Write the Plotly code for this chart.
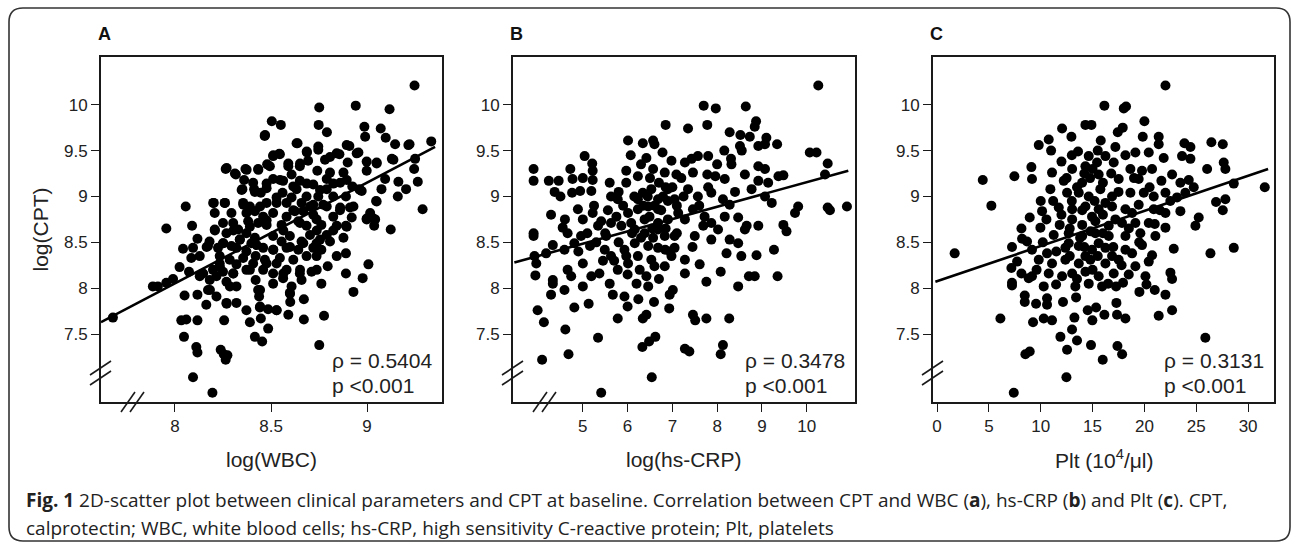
import plotly.graph_objects as go

W, H = 1292, 544

# ---------------- data ----------------
wbc_cpt = [
(9.247,10.21),(8.751,9.97),(8.941,9.99),(9.117,9.95),(8.504,9.82),(8.551,9.78),(8.748,9.78),(8.467,9.66),(8.791,9.70),(8.986,9.76),(8.99,9.65),(9.071,9.74),(9.097,9.64),(9.146,9.57),(9.221,9.57),(9.334,9.60),
(8.638,9.58),(8.687,9.48),(8.746,9.51),(8.908,9.55),(8.955,9.48),(8.856,9.46),(8.511,9.44),(8.546,9.46),(8.65,9.33),(8.693,9.39),(8.807,9.43),(8.899,9.37),(9.05,9.37),(9.129,9.41),(9.25,9.41),(9.245,9.30),
(8.264,9.30),(8.317,9.24),(8.367,9.30),(8.433,9.30),(8.48,9.35),(8.59,9.33),(8.607,9.24),(8.741,9.28),(8.807,9.26),(8.877,9.26),(8.998,9.28),(9.094,9.19),(9.163,9.16),(9.264,9.16),(9.203,9.08),
(8.36,9.18),(8.511,9.19),(8.563,9.17),(8.65,9.17),(8.72,9.13),(8.79,9.19),(8.923,9.11),(8.96,9.08),(9.075,9.08),(9.16,9.00),(9.289,8.86),
(8.351,9.08),(8.412,9.08),(8.447,9.04),(8.56,9.04),(8.633,9.08),(8.685,9.00),(8.746,9.00),(8.824,9.00),(8.89,9.00),(8.972,9.06),(9.047,8.95),
(8.202,8.93),(8.259,8.93),(8.355,8.93),(8.39,8.89),(8.477,8.93),(8.581,8.93),(8.659,8.93),(8.72,8.91),(8.79,8.89),(8.86,8.88),(8.911,8.88),
(8.056,8.89),(8.207,8.82),(8.416,8.84),(8.511,8.82),(8.624,8.84),(8.72,8.80),(8.824,8.78),(8.92,8.77),(9.016,8.82),(9.042,8.75),(8.998,8.75),(9.037,8.68),(9.123,8.64),
(7.955,8.65),(8.089,8.68),(8.207,8.64),(8.268,8.60),(8.329,8.64),(8.433,8.71),(8.477,8.69),(8.555,8.69),(8.642,8.73),(8.685,8.68),(8.762,8.69),(8.842,8.68),(8.89,8.68),
(8.372,8.60),(8.416,8.55),(8.511,8.57),(8.598,8.57),(8.703,8.58),(8.79,8.58),(8.877,8.55),
(8.117,8.54),(8.18,8.51),(8.25,8.49),(8.294,8.46),(8.042,8.43),(8.094,8.44),(8.172,8.46),(8.224,8.44),(8.32,8.44),(8.372,8.40),(8.459,8.44),(8.511,8.42),(8.581,8.44),(8.642,8.42),(8.72,8.44),(8.762,8.42),(8.89,8.38),
(8.085,8.33),(8.129,8.35),(8.233,8.35),(8.285,8.31),(8.355,8.33),(8.42,8.35),(8.468,8.31),(8.546,8.33),(8.616,8.31),(8.685,8.35),(8.737,8.35),(8.795,8.24),(9.007,8.26),
(8.024,8.23),(8.073,8.18),(8.129,8.13),(8.198,8.20),(8.25,8.18),(8.303,8.16),(8.372,8.20),(8.459,8.20),(8.511,8.16),(8.581,8.20),(8.65,8.16),(8.711,8.18),(8.89,8.16),
(7.885,8.02),(7.911,8.02),(7.955,8.06),(7.99,8.10),(8.181,8.09),(8.216,8.13),(8.268,8.07),(8.32,8.02),(8.42,8.09),(8.511,8.05),(8.563,8.11),(8.607,8.02),(8.659,8.09),(8.762,8.05),(8.977,8.11),
(8.05,7.92),(8.117,7.93),(8.172,7.98),(8.216,7.91),(8.268,7.84),(8.32,7.84),(8.433,7.98),(8.438,7.91),(8.598,7.95),(8.6,7.85),(8.671,7.88),(8.929,7.96),
(8.163,7.82),(8.372,7.76),(8.442,7.79),(8.485,7.77),(8.529,7.76),(8.59,7.71),(8.776,7.70),
(8.033,7.65),(8.059,7.66),(8.117,7.65),(8.256,7.65),(8.39,7.63),(8.447,7.67),(8.671,7.66),(7.677,7.68),(8.485,7.56),
(8.047,7.47),(8.416,7.47),(8.454,7.42),(8.751,7.38),(8.111,7.36),(8.117,7.30),(8.238,7.33),(8.254,7.28),(8.273,7.27),(8.264,7.22),(8.094,7.03),(8.195,6.86),
(8.407,9.15),(8.477,9.09),(8.607,8.99),(8.529,8.99),(8.668,8.84),(8.581,8.78),(8.459,8.78),(8.381,8.73),(8.303,8.71),(8.737,8.75),(8.807,8.51),(8.659,8.51),(8.555,8.51),(8.398,8.49),(8.337,8.53),(8.407,8.27),(8.529,8.27),(8.32,8.26),(8.233,8.27),(8.79,9.08),(8.86,9.15),(8.294,8.82),(8.372,8.82),(8.25,8.71),(8.737,8.49),(8.842,8.35),
(8.469,9.67),(8.633,9.58),(8.686,9.49),(8.746,9.545),(8.512,9.45),(8.543,9.465),(8.269,9.31),(8.312,9.25),(8.373,9.29),(8.434,9.29),(8.494,9.33),(8.59,9.36),(8.651,9.36),(8.781,9.40),(8.842,9.47),(8.894,9.56),(8.946,9.47),(8.998,9.38),(9.05,9.36),(9.137,9.40),(9.215,9.56),
(8.347,9.07),(8.416,9.05),(8.477,9.14),(8.547,9.18),(8.616,9.11),(8.686,9.14),(8.755,9.07),(8.824,9.14),(8.894,9.18),(8.963,9.07),
(8.199,8.93),(8.26,8.93),(8.356,8.91),(8.443,8.89),(8.529,8.93),(8.616,8.85),(8.703,8.89),(8.772,8.91),(8.859,8.85),(8.929,8.89),(9.05,8.945),(8.998,8.76),(9.033,8.76),
(8.208,8.63),(8.304,8.63),(8.39,8.67),(8.477,8.74),(8.564,8.63),(8.651,8.71),(8.738,8.63),(8.824,8.63),(8.894,8.67),
(8.165,8.45),(8.252,8.49),(8.338,8.53),(8.425,8.47),(8.512,8.42),(8.599,8.45),(8.668,8.49),(8.755,8.53),
(8.147,8.16),(8.234,8.23),(8.304,8.16),(8.39,8.20),(8.477,8.27),(8.564,8.16),(8.651,8.20),(8.738,8.20),
(8.182,7.98),(8.286,8.02),(8.443,7.98),(8.599,7.94),(8.269,7.83),(8.443,7.80),(8.529,7.76),
]

crp_cpt = [
(10.26,10.21),(7.70,9.99),(7.97,9.96),(8.64,9.98),(6.85,9.78),(7.35,9.74),(7.78,9.78),(8.87,9.82),(8.84,9.76),(8.28,9.70),(8.52,9.67),(8.73,9.65),(9.10,9.64),(9.07,9.57),(9.34,9.57),(8.92,9.55),(8.51,9.55),(8.55,9.50),(8.16,9.50),
(6.01,9.61),(6.34,9.58),(6.57,9.61),(6.60,9.57),(6.78,9.48),(6.07,9.45),(5.04,9.44),(6.42,9.42),(6.98,9.39),(7.28,9.37),(7.43,9.41),(7.57,9.44),(7.80,9.44),(8.31,9.41),(8.32,9.35),(8.92,9.33),(10.07,9.48),(10.22,9.48),(10.47,9.36),(10.41,9.24),
(3.90,9.30),(3.90,9.17),(4.24,9.17),(4.46,9.17),(4.37,9.05),(4.72,9.30),(4.77,9.19),(5.00,9.20),(5.21,9.36),(5.22,9.28),(5.22,9.18),(4.76,9.04),(4.94,9.06),(5.19,9.06),(5.60,9.15),(5.97,9.28),(5.97,9.15),(6.23,9.22),(6.57,9.30),(6.83,9.26),(7.09,9.24),(7.46,9.26),(7.78,9.24),(7.96,9.22),(8.17,9.19),(8.62,9.24),(8.92,9.17),(9.14,9.15),(9.37,9.22),(9.48,9.23),(9.07,9.30),(8.77,9.08),
(5.63,9.00),(5.78,8.97),(6.34,9.04),(6.53,9.08),(6.79,9.00),(7.05,8.97),(7.35,9.08),(7.57,9.00),(7.87,9.04),(8.13,8.97),(8.28,8.91),(9.22,8.93),(9.07,9.00),(9.81,8.89),(9.74,8.82),(10.47,8.88),(10.52,8.85),(10.90,8.89),
(4.29,8.80),(4.55,8.66),(4.89,8.86),(5.00,8.75),(5.22,8.82),(5.56,8.85),(5.75,8.78),(6.01,8.82),(6.23,8.86),(6.49,8.78),(6.68,8.86),(6.90,8.75),(7.13,8.82),(7.46,8.86),(7.72,8.78),(7.87,8.71),(8.17,8.78),(8.47,8.77),(8.66,8.68),(8.92,8.68),(9.48,8.69),(9.55,8.62),
(3.90,8.60),(3.90,8.57),(4.66,8.60),(4.96,8.57),(5.34,8.68),(5.52,8.57),(5.86,8.68),(6.16,8.64),(6.38,8.60),(6.68,8.64),(7.05,8.57),(7.50,8.57),(7.69,8.68),(7.87,8.53),(8.28,8.53),(8.47,8.49),(8.62,8.64),
(4.33,8.47),(4.59,8.42),(4.81,8.49),(5.16,8.46),(5.49,8.42),(5.63,8.35),(5.93,8.42),(6.16,8.49),(6.46,8.46),(6.68,8.44),(6.84,8.42),(7.05,8.44),(7.28,8.31),(8.21,8.38),(8.54,8.35),(8.88,8.36),(9.27,8.42),
(3.92,8.35),(3.96,8.27),(4.18,8.38),(3.94,8.14),(4.33,8.09),(4.33,8.05),(4.66,8.20),(4.74,8.13),(5.00,8.27),(5.19,8.13),(5.37,8.16),(5.60,8.05),(5.78,8.20),(6.01,8.27),(6.27,8.20),(6.42,8.13),(6.60,8.24),(6.83,8.24),(6.46,8.02),(7.28,8.16),(7.61,8.26),(7.76,8.07),(8.08,8.18),(8.71,8.13),(8.84,8.13),(9.35,8.13),
(4.29,7.93),(4.59,7.98),(5.00,8.02),(5.67,7.93),(5.93,7.91),(6.24,7.88),(6.59,7.85),(6.94,7.93),(7.01,7.98),(6.00,7.80),(6.93,7.78),(8.47,8.02),(4.81,7.79),(5.13,7.83),(3.99,7.76),(4.13,7.63),
(5.78,7.67),(6.34,7.67),(6.42,7.71),(7.46,7.71),(7.51,7.65),(7.76,7.67),(8.27,7.67),(4.61,7.55),(5.34,7.46),(6.62,7.47),(6.48,7.42),(6.33,7.36),(7.28,7.34),(7.38,7.31),(8.13,7.38),(8.08,7.28),(4.68,7.28),(4.09,7.22),(6.54,7.03),(5.41,6.86),
(6.23,8.97),(6.46,8.89),(6.68,8.97),(6.90,9.08),(6.38,8.75),(6.68,8.71),(6.08,8.71),(5.63,8.71),(5.41,8.73),(6.23,8.35),(6.53,8.31),(5.97,8.35),(6.98,8.35),(6.83,8.57),(6.57,8.55),(7.28,8.75),(8.02,8.64),
(6.3,9.35),(6.5,9.2),(6.7,9.15),(6.85,9.1),(6.45,9.0),(6.6,8.9),(6.75,8.85),(6.35,8.9),(6.15,9.0),(6.9,8.95),(7.0,9.1),(7.2,9.2),(7.25,9.0),(7.1,8.9),(5.9,8.9),(5.8,9.05),(6.1,8.6),(6.3,8.55),(6.55,8.65),(6.85,8.65),
(5.8,8.5),(5.5,8.6),(5.3,8.5),(5.7,8.3),(6.0,8.15),(6.7,8.1),(6.2,8.05),(5.1,8.6),(4.9,8.4),(4.6,8.75),(7.6,8.9),(7.8,9.1),(8.0,9.35),(8.4,9.05),(7.45,8.45),(7.1,8.6),(6.95,8.4),(5.45,8.3),(5.25,8.9),(4.5,9.0),
]

plt_cpt = [
(22.03,10.21),(16.14,9.99),(18.01,9.96),(18.23,9.98),(12.06,9.74),(14.31,9.78),(14.89,9.78),(20.0,9.82),(17.91,9.75),(17.43,9.70),(10.77,9.62),(9.81,9.56),(12.96,9.65),(15.79,9.61),(17.2,9.54),(19.84,9.65),(21.38,9.65),(21.38,9.57),(23.86,9.58),(24.44,9.54),(26.46,9.59),(27.56,9.57),
(13.6,9.49),(14.63,9.44),(16.24,9.44),(18.17,9.45),(19.13,9.48),(20.42,9.48),(21.86,9.42),(23.63,9.44),(24.44,9.41),(27.65,9.37),(27.81,9.30),(26.05,9.30),(9.1,9.32),(12.0,9.38),(13.03,9.30),(14.31,9.33),(15.43,9.37),(17.04,9.37),(18.65,9.30),(19.77,9.28),(20.74,9.30),
(4.41,9.18),(7.46,9.22),(9.16,9.19),(11.09,9.26),(12.22,9.17),(14.76,9.20),(15.59,9.24),(17.52,9.19),(19.45,9.19),(21.64,9.17),(22.67,9.24),(23.47,9.15),(24.28,9.18),(24.76,9.10),(28.62,9.14),(31.61,9.10),
(5.24,8.90),(10.93,9.08),(12.54,9.04),(13.67,9.04),(14.63,9.00),(15.75,9.08),(16.88,9.00),(18.65,9.04),(19.94,9.04),(20.9,9.00),(22.03,9.04),(23.15,8.99),(23.95,9.04),(26.91,8.94),(27.81,8.97),(27.56,8.85),
(10.13,8.84),(11.74,8.88),(13.03,8.86),(14.31,8.89),(15.59,8.86),(16.88,8.89),(18.17,8.86),(19.45,8.91),(20.9,8.86),(22.03,8.82),(23.47,8.84),
(8.94,8.77),(10.55,8.75),(11.83,8.69),(13.03,8.75),(14.0,8.69),(15.27,8.73),(16.56,8.68),(17.84,8.71),(19.13,8.71),(20.42,8.71),(22.03,8.66),(25.24,8.77),(24.92,8.68),
(8.14,8.65),(9.97,8.66),(11.25,8.58),(12.7,8.60),(14.0,8.57),(15.27,8.60),(16.56,8.57),(18.17,8.57),(19.61,8.60),(21.06,8.57),(8.2,8.54),(8.68,8.51),(7.23,8.45),(1.7,8.38),
(9.16,8.42),(10.61,8.38),(12.38,8.44),(13.67,8.46),(14.95,8.42),(16.24,8.44),(18.17,8.42),(19.77,8.47),(20.74,8.36),(22.83,8.43),(26.37,8.38),(28.62,8.44),
(7.72,8.29),(9.81,8.31),(11.09,8.27),(12.38,8.31),(13.67,8.27),(14.79,8.31),(16.24,8.27),(17.52,8.31),(19.13,8.24),(20.42,8.29),
(7.17,8.22),(8.14,8.16),(9.16,8.13),(10.77,8.16),(12.06,8.13),(13.03,8.16),(14.31,8.18),(15.59,8.13),(17.04,8.16),(18.49,8.15),(20.1,8.13),(22.51,8.17),(22.67,8.10),
(7.23,8.06),(7.23,8.03),(8.84,8.11),(10.29,8.02),(11.48,8.04),(13.34,8.02),(14.63,8.05),(15.92,8.02),(17.27,8.02),(17.94,8.06),(20.2,8.04),(21.0,7.98),(19.52,7.96),
(8.46,7.92),(8.46,7.85),(9.55,7.83),(10.61,7.89),(10.61,7.82),(12.15,7.85),(13.41,7.90),(14.53,7.76),(15.34,7.79),(17.3,7.84),(17.36,7.71),(16.14,7.71),(18.17,7.67),(22.03,7.93),(22.67,7.76),(21.38,7.70),
(6.11,7.67),(9.26,7.63),(10.29,7.67),(11.09,7.65),(13.25,7.68),(14.98,7.65),(11.9,7.47),(13.02,7.55),(13.5,7.43),(12.54,7.33),(14.85,7.38),(17.4,7.37),(17.85,7.28),(15.98,7.22),(8.52,7.28),(8.94,7.31),(25.88,7.46),(12.48,7.03),(7.4,6.86),
(14.95,8.78),(16.24,8.93),(13.99,9.15),(18.81,8.82),(12.7,8.49),(15.59,8.49),(16.88,8.35),(18.81,8.38),(14.31,8.35),
(12.5,9.2),(13.5,9.1),(14.2,9.25),(15.0,9.3),(16.0,9.15),(16.8,9.25),(17.5,9.05),(13.0,8.95),(14.0,8.85),(15.2,8.95),(16.0,8.8),(17.2,8.75),(12.0,8.8),(11.2,8.95),(12.8,8.65),(13.8,8.55),(14.8,8.62),(16.0,8.6),(17.0,8.45),(18.5,8.65),
(11.5,8.4),(12.8,8.35),(14.2,8.45),(15.5,8.35),(17.8,8.25),(13.5,8.1),(15.0,8.2),(16.5,8.05),(10.2,8.5),(9.6,8.2),(19.0,9.2),(20.5,9.1),(21.5,8.85),(22.5,8.95),(21.0,8.7),(19.5,8.5),(11.0,9.5),(13.0,9.45),(15.5,9.5),(10.0,8.95),
]

panel_letters = ["A", "B", "C"]
x_titles = ["log(WBC)", "log(hs-CRP)", "Plt (10<sup>4</sup>/\u03bcl)"]
rho_values = ["0.5404", "0.3478", "0.3131"]
p_text = "p <0.001"
# regression lines: intercept, slope, x-start, x-end
fit_intercept = [-0.731, 7.815, 8.076]
fit_slope = [1.098, 0.134, 0.0383]
fit_xstart = [7.615, 3.47, -0.16]
fit_xend = [9.354, 10.93, 31.93]
x_tickvals = [[8, 8.5, 9], [5, 6, 7, 8, 9, 10], [0, 5, 10, 15, 20, 25, 30]]
x_ticktext = [["8", "8.5", "9"], ["5", "6", "7", "8", "9", "10"], ["0", "5", "10", "15", "20", "25", "30"]]
y_tickvals = [7.5, 8, 8.5, 9, 9.5, 10]
y_ticktext = ["7.5", "8", "8.5", "9", "9.5", "10"]

# ---------------- layout geometry (pixels) ----------------
panel_left = [101, 513, 933]
panel_right = [442, 855, 1274]
panel_top, panel_bottom = 57, 402
x_ranges = [[7.615, 9.39], [3.44, 11.08], [-0.39, 32.5]]
y_range = [6.76, 10.52]

def px(x):
    return x / W

def py(y):
    return 1 - y / H

FONT = "Arial, Liberation Sans, sans-serif"
fig = go.Figure()
datasets = [wbc_cpt, crp_cpt, plt_cpt]

for i, data in enumerate(datasets):
    sfx = "" if i == 0 else str(i + 1)
    xs = [d[0] for d in data]
    ys = [d[1] for d in data]
    fig.add_trace(go.Scatter(x=xs, y=ys, mode="markers", xaxis="x" + sfx, yaxis="y" + sfx,
                             marker=dict(color="black", size=10, line=dict(width=0)),
                             showlegend=False, hoverinfo="skip"))
    lx = [fit_xstart[i], fit_xend[i]]
    ly = [fit_intercept[i] + fit_slope[i] * v for v in lx]
    fig.add_trace(go.Scatter(x=lx, y=ly, mode="lines", xaxis="x" + sfx, yaxis="y" + sfx,
                             line=dict(color="black", width=2.6), showlegend=False, hoverinfo="skip"))

    axis_common = dict(showgrid=False, zeroline=False, showline=True, linecolor="#1a1a1a",
                       linewidth=2, mirror=True, ticks="outside", ticklen=8, tickwidth=1.3,
                       tickcolor="#1a1a1a", tickfont=dict(family=FONT, size=17, color="#222"))
    fig.layout["xaxis" + sfx] = dict(axis_common, domain=[px(panel_left[i]), px(panel_right[i])],
                                     range=x_ranges[i], anchor="y" + sfx,
                                     tickvals=x_tickvals[i], ticktext=x_ticktext[i])
    fig.layout["yaxis" + sfx] = dict(axis_common, domain=[py(panel_bottom), py(panel_top)],
                                     range=y_range, anchor="x" + sfx,
                                     tickvals=y_tickvals, ticktext=y_ticktext)

annotations = []
shapes = []
for i in range(3):
    L, R = panel_left[i], panel_right[i]
    annotations.append(dict(text="<b>%s</b>" % panel_letters[i], x=px(L - 5), y=py(34), xref="paper", yref="paper",
                            xanchor="left", yanchor="middle", showarrow=False,
                            font=dict(family=FONT, size=18, color="#111")))
    annotations.append(dict(text=x_titles[i], x=px((L + R) / 2), y=py(459), xref="paper", yref="paper",
                            xanchor="center", yanchor="middle", showarrow=False,
                            font=dict(family=FONT, size=21, color="#222")))
    annotations.append(dict(text="\u03c1 = " + rho_values[i], x=px(R - 112), y=py(360), xref="paper", yref="paper",
                            xanchor="left", yanchor="middle", showarrow=False,
                            font=dict(family=FONT, size=21, color="#222")))
    annotations.append(dict(text=p_text, x=px(R - 112), y=py(385), xref="paper", yref="paper",
                            xanchor="left", yanchor="middle", showarrow=False,
                            font=dict(family=FONT, size=21, color="#222")))
    # y-axis break marks
    for yc in (368, 378):
        shapes.append(dict(type="line", xref="paper", yref="paper",
                           x0=px(L - 11), y0=py(yc + 7), x1=px(L + 10), y1=py(yc - 7),
                           line=dict(color="#1a1a1a", width=1.6)))
    # x-axis break marks (not in panel C)
    if i < 2:
        for xc in (L + 27, L + 36):
            shapes.append(dict(type="line", xref="paper", yref="paper",
                               x0=px(xc - 7), y0=py(412), x1=px(xc + 7), y1=py(392),
                               line=dict(color="#1a1a1a", width=1.6)))

annotations.append(dict(text="log(CPT)", x=px(40), y=py(229.5), xref="paper", yref="paper",
                        xanchor="center", yanchor="middle", textangle=-90, showarrow=False,
                        font=dict(family=FONT, size=21, color="#222")))

CAP_FONT = "Open Sans, Noto Sans, sans-serif"
cap1 = ("<b>Fig. 1</b> 2D-scatter plot between clinical parameters and CPT at baseline. Correlation between CPT and WBC "
        "(<b>a</b>), hs-CRP (<b>b</b>) and Plt (<b>c</b>). CPT,")
cap2 = "calprotectin; WBC, white blood cells; hs-CRP, high sensitivity C-reactive protein; Plt, platelets"
annotations.append(dict(text=cap1, x=px(24), y=py(500), xref="paper", yref="paper", xanchor="left",
                        yanchor="middle", showarrow=False, font=dict(family=CAP_FONT, size=19, color="#222")))
annotations.append(dict(text=cap2, x=px(24), y=py(528), xref="paper", yref="paper", xanchor="left",
                        yanchor="middle", showarrow=False, font=dict(family=CAP_FONT, size=19, color="#222")))

# rounded outer frame
x0, y0, x1, y1, r = 9, 8, 1290, 541, 14
path = ("M {a},{b} L {c},{b} Q {x1},{b} {x1},{d} L {x1},{e} Q {x1},{y1} {c},{y1} "
        "L {a},{y1} Q {x0},{y1} {x0},{e} L {x0},{d} Q {x0},{b} {a},{b} Z").format(
    a=px(x0 + r), b=py(y0), c=px(x1 - r), d=py(y0 + r), e=py(y1 - r),
    x0=px(x0), x1=px(x1), y1=py(y1))
shapes.append(dict(type="path", xref="paper", yref="paper", path=path,
                   line=dict(color="#333", width=1.6), fillcolor="rgba(0,0,0,0)"))

fig.update_layout(width=W, height=H, margin=dict(l=0, r=0, t=0, b=0),
                  paper_bgcolor="white", plot_bgcolor="white",
                  annotations=annotations, shapes=shapes, showlegend=False)

fig.write_html("out.html", config={"displayModeBar": False},
               post_script="document.body.style.margin='0px';document.body.style.overflow='hidden';")
